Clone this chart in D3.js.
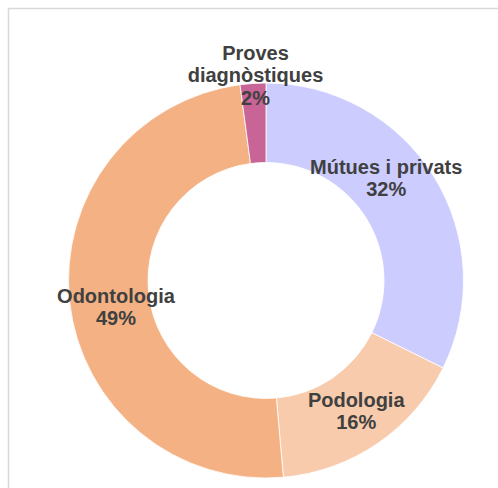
<!DOCTYPE html>
<html lang="ca">
<head>
  <meta charset="UTF-8" />
  <title>Donut chart</title>
  <script src="https://d3js.org/d3.v7.min.js"></script>
  <style>
    html, body { margin: 0; padding: 0; background: #fff; }
    svg { display: block; }
    .label { font: bold 20px "Liberation Sans", Arial, sans-serif; fill: #404040; }
  </style>
</head>
<body>
  <svg width="498" height="488"></svg>

  <script>
    const categories = ["Mútues i privats", "Podologia", "Odontologia", "Proves diagnòstiques"];
    const values = [32.3, 16.3, 49.3, 2.1];
    const percentLabels = ["32%", "16%", "49%", "2%"];
    const labelLines = [["Mútues i privats"], ["Podologia"], ["Odontologia"], ["Proves", "diagnòstiques"]];
    const colors = ["#ccccff", "#f8cbad", "#f4b183", "#c86496"];

    const svg = d3.select("svg");

    // chart area frame (only top/left edges visible in the window)
    svg.append("rect")
      .attr("x", 8.5).attr("y", 8.5)
      .attr("width", 600).attr("height", 600)
      .attr("fill", "none")
      .attr("stroke", "#d9d9d9")
      .attr("stroke-width", 1.5);

    const cx = 266, cy = 280.5;
    const outerR = 197.5, innerR = 118;

    const g = svg.append("g").attr("transform", `translate(${cx},${cy})`);

    const data = categories.map((c, i) => ({ cat: c, value: values[i], pct: percentLabels[i], lines: labelLines[i], color: colors[i] }));

    const pie = d3.pie().value(d => d.value).sort(null);
    const arcs = pie(data);

    const arc = d3.arc().innerRadius(innerR).outerRadius(outerR);

    g.selectAll("path.slice")
      .data(arcs)
      .join("path")
      .attr("class", "slice")
      .attr("d", arc)
      .attr("fill", d => d.data.color)
      .attr("stroke", "#fff")
      .attr("stroke-width", 0.8);

    // label placement: slice centroid at mid radius, small-slice label outside
    const midArc = d3.arc().innerRadius(158).outerRadius(158);
    const outArc = d3.arc().innerRadius(205).outerRadius(205);
    const nudge = [[-14, -19], [1, 0], [7, 9], [3, 15]];
    const lineH = 22.5;

    arcs.forEach((a, i) => {
      const small = a.data.value < 5;
      const [px, py] = (small ? outArc : midArc).centroid(a);
      const lines = a.data.lines.concat([a.data.pct]);
      const x = px + nudge[i][0];
      const y = py + nudge[i][1];
      const text = g.append("text")
        .attr("class", "label")
        .attr("text-anchor", "middle");
      const top = small ? y - (lines.length - 1) * lineH + 14 : y - (lines.length - 1) * lineH / 2 + 7;
      lines.forEach((t, k) => {
        text.append("tspan")
          .attr("x", x)
          .attr("y", top + k * lineH)
          .text(t);
      });
    });
  </script>
</body>
</html>
